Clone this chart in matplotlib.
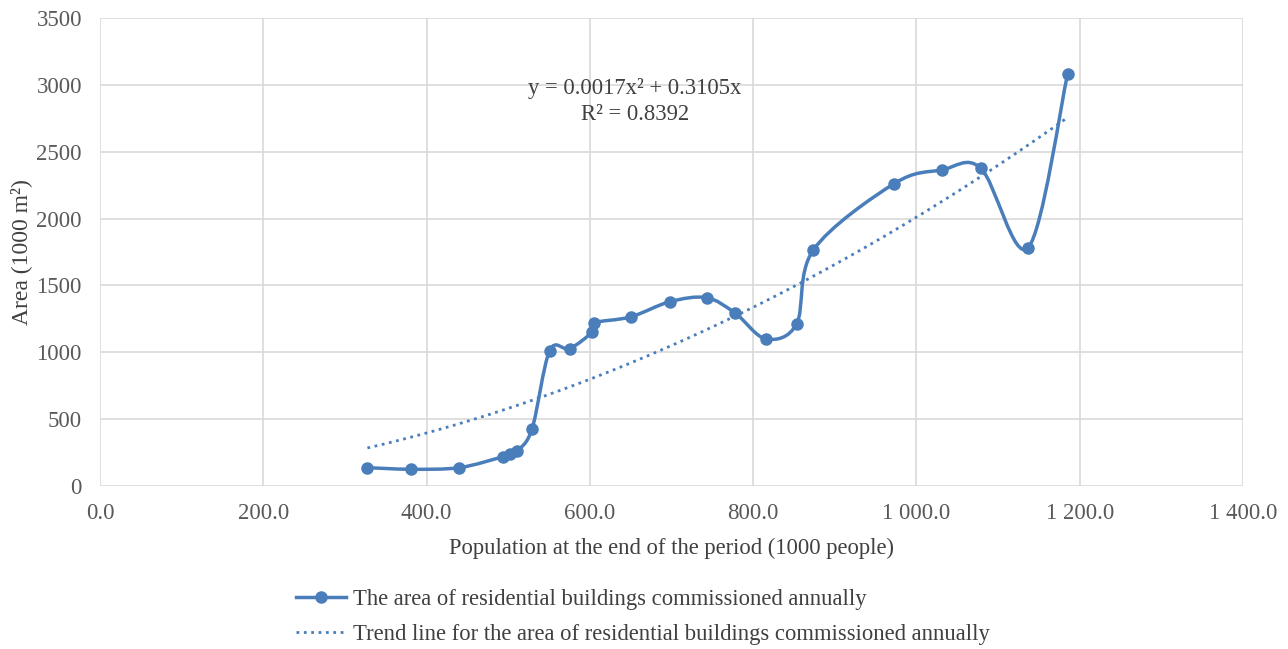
import numpy as np
import matplotlib.pyplot as plt
from matplotlib.path import Path
from matplotlib.patches import PathPatch
from matplotlib.lines import Line2D
from matplotlib.ticker import FuncFormatter

plt.rcParams['font.family'] = ['Liberation Serif', 'DejaVu Serif']

# population at the end of the period (1000 people)
population = [327.6, 380.8, 440.1, 493.7, 502.6, 510.8, 529.2, 550.8, 575.3,
              603.2, 605.6, 649.8, 698.0, 742.9, 778.1, 815.6, 853.2, 873.7,
              972.6, 1030.7, 1078.9, 1136.8, 1185.1]
# area of residential buildings commissioned annually (1000 m2)
area = [137, 125, 137, 219, 237, 262, 426, 1012, 1027,
        1154, 1221, 1264, 1378, 1408, 1292, 1100, 1212, 1765,
        2261, 2363, 2376, 1782, 3081]

# polynomial trend line coefficients shown on the chart
trend_a = 0.0017
trend_b = 0.3105

color = '#4A7EBB'

fig = plt.figure(figsize=(12.88, 6.49), dpi=100)
ax = fig.add_axes([0.0776, 0.2512, 0.8875, 0.7211])

# Excel-style smoothed line (Catmull-Rom as cubic Bezier)
pts = np.column_stack([population, area])
verts = [pts[0]]
codes = [Path.MOVETO]
n = len(pts)
for i in range(n - 1):
    p0 = pts[i - 1] if i > 0 else pts[i]
    p1 = pts[i]
    p2 = pts[i + 1]
    p3 = pts[i + 2] if i + 2 < n else pts[i + 1]
    c1 = p1 + (p2 - p0) / 6.0
    c2 = p2 - (p3 - p1) / 6.0
    verts += [c1, c2, p2]
    codes += [Path.CURVE4] * 3
ax.add_patch(PathPatch(Path(verts, codes), facecolor='none', edgecolor=color,
                       lw=2.5, zorder=3))
ax.plot(population, area, 'o', color=color, ms=8, zorder=4)

# trend line
tx = np.linspace(min(population), max(population), 200)
ax.plot(tx, trend_a * tx ** 2 + trend_b * tx, ':', color=color, lw=2, zorder=3)

ax.set_xlim(0, 1400)
ax.set_ylim(0, 3500)
ax.set_xticks(np.arange(0, 1401, 200))
ax.set_yticks(np.arange(0, 3501, 500))
ax.xaxis.set_major_formatter(FuncFormatter(
    lambda v, p: f'{v:,.1f}'.replace(',', ' ')))
ax.grid(True, color='#D9D9D9', lw=1.2)
ax.set_axisbelow(True)
for s in ax.spines.values():
    s.set_visible(False)
ax.tick_params(length=0, labelsize=16.5, colors='#595959')
ax.tick_params(axis='x', pad=12)
ax.tick_params(axis='y', pad=13)
ax.set_xlabel('Population at the end of the period (1000 people)',
              fontsize=16.3, color='#404040', labelpad=10)
ax.set_ylabel('Area (1000 m²)', fontsize=17, color='#404040', labelpad=3)

ax.text(655, 2875, 'y = 0.0017x² + 0.3105x\nR² = 0.8392',
        ha='center', va='center', fontsize=16.3, color='#404040',
        linespacing=1.3)

handles = [Line2D([], [], color=color, lw=2.5, marker='o', ms=8),
           Line2D([], [], color=color, lw=2, ls=':')]
labels = ['The area of residential buildings commissioned annually',
          'Trend line for the area of residential buildings commissioned annually']
fig.legend(handles, labels, loc='upper left', bbox_to_anchor=(0.223, 0.106),
           frameon=False, fontsize=16.3, handlelength=2.2, handletextpad=0.3,
           labelspacing=0.6, labelcolor='#404040', borderaxespad=0)

fig.savefig('out.png', dpi=100)
